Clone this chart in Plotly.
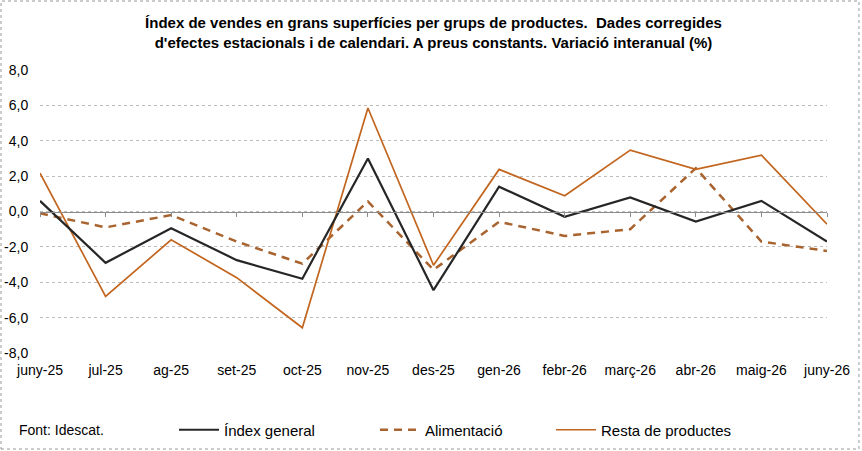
import plotly.graph_objects as go

# Dades (variació interanual, %)
mesos = ["juny-25", "jul-25", "ag-25", "set-25", "oct-25", "nov-25", "des-25",
         "gen-26", "febr-26", "març-26", "abr-26", "maig-26", "juny-26"]
index_general = [0.6, -2.9, -0.95, -2.75, -3.8, 3.0, -4.45, 1.4, -0.3, 0.8, -0.57, 0.6, -1.7]
alimentacio = [-0.1, -0.9, -0.2, -1.7, -2.95, 0.57, -3.3, -0.58, -1.38, -1.0, 2.45, -1.7, -2.23]
resta_productes = [2.17, -4.8, -1.6, -3.74, -6.57, 5.85, -3.04, 2.38, 0.89, 3.47, 2.38, 3.19, -0.72]

y_ticks = [8, 6, 4, 2, 0, -2, -4, -6, -8]
y_ticktext = ["8,0", "6,0", "4,0", "2,0", "0,0", "-2,0", "-4,0", "-6,0", "-8,0"]

titol = ("Índex de vendes en grans superfícies per grups de productes.  Dades corregides<br>"
         "d'efectes estacionals i de calendari. A preus constants. Variació interanual (%)")

FONT = "Liberation Sans, Arial, sans-serif"
C_BLACK = "#262626"
C_ORANGE = "#C2651F"
C_DASH = "#A8632F"

fig = go.Figure()

fig.add_trace(go.Scatter(x=mesos, y=alimentacio, name="Alimentació", mode="lines",
                         line=dict(color=C_DASH, width=2.5, dash="8px,6px"),
                         legend="legend2"))
fig.add_trace(go.Scatter(x=mesos, y=resta_productes, name="Resta de productes", mode="lines",
                         line=dict(color=C_ORANGE, width=1.7), legend="legend3"))
fig.add_trace(go.Scatter(x=mesos, y=index_general, name="Índex general", mode="lines",
                         line=dict(color=C_BLACK, width=2.2), legend="legend",
                         xaxis="x2"))

L, R, T, B = 40, 35, 70, 98
W, H = 862, 451
pw, ph = W - L - R, H - T - B

def px(x):
    return (x - L) / pw

def py(y):
    return (H - B - y) / ph

legend_common = dict(orientation="h", yanchor="middle", xanchor="left",
                     xref="container", yref="container",
                     font=dict(family=FONT, size=15, color="#000"),
                     bgcolor="rgba(0,0,0,0)", itemwidth=40)

fig.update_layout(
    width=W, height=H,
    margin=dict(l=L, r=R, t=T, b=B, autoexpand=False),
    paper_bgcolor="white", plot_bgcolor="white",
    title=dict(text=titol, x=0.5, xref="paper", xanchor="center",
               yref="container", y=1 - 28 / H, yanchor="top",
               font=dict(family=FONT, size=15, color="#000", weight="bold")),
    xaxis=dict(range=[0, 12], showgrid=False, showline=False, ticks="",
               ticklabelstandoff=7, automargin=False,
               tickfont=dict(family=FONT, size=14, color="#000"), zeroline=False),
    xaxis2=dict(overlaying="x", matches="x", anchor="free", position=0.5,
                showticklabels=False, showgrid=False, showline=True, linecolor="#8C8C8C",
                linewidth=1, ticks="outside", ticklen=4, tickcolor="#8C8C8C",
                tickson="labels", automargin=False),
    yaxis=dict(range=[-8, 8], tickvals=y_ticks, ticktext=y_ticktext,
               showgrid=True, gridcolor="#BDBDBD", griddash="dot", gridwidth=1,
               zeroline=False, showline=False, ticks="outside", ticklen=8,
               tickcolor="rgba(0,0,0,0)", automargin=False,
               tickfont=dict(family=FONT, size=14, color="#000")),
    showlegend=True,
    legend=dict(x=174 / W, y=1 - 430 / H, **legend_common),
    legend2=dict(x=375 / W, y=1 - 430 / H, **legend_common),
    legend3=dict(x=551 / W, y=1 - 430 / H, **legend_common),
    annotations=[dict(text="Font: Idescat.", xref="paper", yref="paper",
                      x=px(17), y=py(430), xanchor="left", yanchor="middle",
                      showarrow=False, font=dict(family=FONT, size=14, color="#000"))],
    shapes=[dict(type="rect", xref="paper", yref="paper",
                 x0=px(1), x1=px(859), y0=py(449), y1=py(1),
                 line=dict(color="#9A9A9A", width=1, dash="dot"))],
)

fig.write_html("out.html", config={"displayModeBar": False},
               post_script="document.body.style.margin='0';")
